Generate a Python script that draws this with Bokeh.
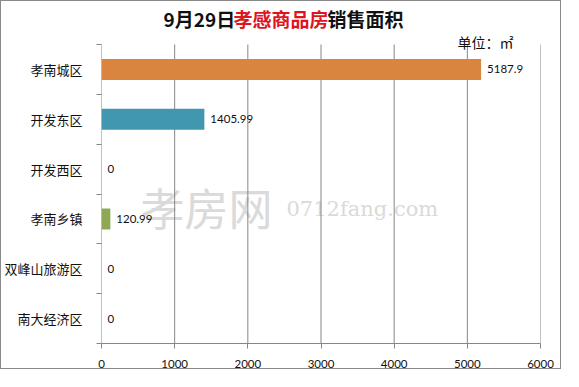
from bokeh.plotting import figure
from bokeh.models import ColumnDataSource, FixedTicker, Label, Range1d
from bokeh.core.properties import value
from bokeh.embed import file_html
from bokeh.resources import INLINE

# ---- data ----
categories = ["孝南城区", "开发东区", "开发西区", "孝南乡镇", "双峰山旅游区", "南大经济区"]
areas = [5187.9, 1405.99, 0, 120.99, 0, 0]
area_labels = ["5187.9", "1405.99", "0", "120.99", "0", "0"]
bar_colors = ["#D9853F", "#4197B0", "#9E9E9E", "#8FA856", "#9E9E9E", "#9E9E9E"]
x_ticks = [0, 1000, 2000, 3000, 4000, 5000, 6000]

n = len(categories)
ypos = [n - i - 0.5 for i in range(n)]

src = ColumnDataSource(dict(y=ypos, v=areas, lab=area_labels, c=bar_colors, cat=categories))

W, H = 561, 369
BL, BR, BB = 93, 22, 27
TOP_PAD = 43                      # px above the category area (title space, inside the frame)
frame_h = H - BB
y_end = n * frame_h / (frame_h - TOP_PAD)

p = figure(width=W, height=H, output_backend="svg", toolbar_location=None,
           x_range=Range1d(0, 6000), y_range=Range1d(0, y_end),
           min_border_left=BL, min_border_right=BR, min_border_top=0, min_border_bottom=BB)
p.styles = {"border": "1px solid #8a8a8a"}
p.outline_line_color = None
p.background_fill_color = "white"
p.border_fill_color = "white"

GRID = "#868686"
# grid lines (only over the category area)
p.segment(x0=x_ticks, y0=[0] * len(x_ticks), x1=x_ticks, y1=[n] * len(x_ticks),
          line_color=GRID, line_width=1)

# watermark behind the bars
p.add_layout(Label(x=138, y=204, x_units="canvas", y_units="canvas", text="孝房网",
                   text_font="Noto Sans CJK SC", text_font_size="44px", text_color="#dadada",
                   text_baseline="middle", text_align="left", level="underlay"))
p.add_layout(Label(x=284, y=206, x_units="canvas", y_units="canvas", text="0712fang.com",
                   text_font="DejaVu Serif", text_font_size="21px", text_color="#dadada",
                   text_baseline="middle", text_align="left", level="underlay"))

p.hbar(y="y", right="v", left=0, height=0.42, fill_color="c", line_color=None, source=src)
p.text(x="v", y="y", text="lab", source=src, x_offset=6, text_baseline="middle",
       text_align="left", text_font=value("Lato"), text_font_size="11.5px", text_color="#111111")

# x axis
p.xaxis.ticker = FixedTicker(ticks=x_ticks)
p.xaxis.axis_line_color = GRID
p.xaxis.major_tick_line_color = GRID
p.xaxis.major_tick_out = 5
p.xaxis.major_tick_in = 0
p.xaxis.minor_tick_line_color = None
p.xaxis.major_label_standoff = 11
p.xaxis.major_label_text_font = "Lato"
p.xaxis.major_label_text_font_size = "11.5px"
p.xaxis.major_label_text_color = "#111111"

# y axis
p.yaxis.ticker = FixedTicker(ticks=ypos, minor_ticks=list(range(n + 1)))
p.yaxis.major_label_overrides = {y: c for y, c in zip(ypos, categories)}
p.yaxis.axis_line_color = None
p.yaxis.major_tick_line_color = None
p.yaxis.major_tick_out = 0
p.yaxis.major_tick_in = 0
p.yaxis.minor_tick_line_color = GRID
p.yaxis.minor_tick_out = 5
p.yaxis.minor_tick_in = 0
p.yaxis.major_label_standoff = 14
p.yaxis.major_label_text_font = "Noto Sans CJK SC"
p.yaxis.major_label_text_font_size = "13px"
p.yaxis.major_label_text_color = "#111111"

p.xgrid.grid_line_color = None
p.ygrid.grid_line_color = None

# title in three colours (canvas px, top-left origin)
title_parts = [("9月29日", "#111111", 161), ("孝感商品房", "#E0141E", 231), ("销售面积", "#111111", 325)]
for t, col, x in title_parts:
    p.add_layout(Label(x=x, y=16, x_units="canvas", y_units="canvas", text=t,
                       text_font="Noto Sans CJK SC", text_font_size="19px", text_font_style="bold",
                       text_color=col, text_baseline="middle", text_align="left"))

p.add_layout(Label(x=455, y=39, x_units="canvas", y_units="canvas", text="单位：㎡",
                   text_font="Noto Sans CJK SC", text_font_size="14px", text_color="#111111",
                   text_baseline="middle", text_align="left"))

open("out.html", "w").write(file_html(p, INLINE))
